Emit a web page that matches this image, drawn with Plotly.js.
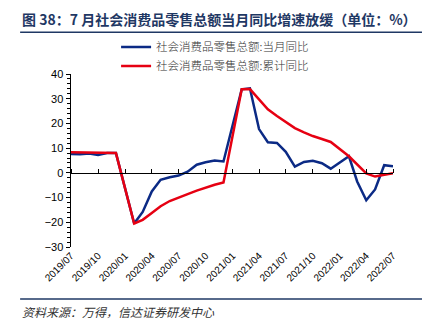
<!DOCTYPE html>
<html><head><meta charset="utf-8">
<script src="https://cdn.plot.ly/plotly-3.0.1.min.js"></script>
<style>body{margin:0;padding:0;background:#fff}#c{width:431px;height:327px}</style>
</head><body><div id="c"></div>
<script>
const months = ["2019-07-01","2019-08-01","2019-09-01","2019-10-01","2019-11-01","2019-12-01",
"2020-02-01","2020-03-01","2020-04-01","2020-05-01","2020-06-01","2020-07-01","2020-08-01","2020-09-01","2020-10-01","2020-11-01","2020-12-01",
"2021-02-01","2021-03-01","2021-04-01","2021-05-01","2021-06-01","2021-07-01","2021-08-01","2021-09-01","2021-10-01","2021-11-01","2021-12-01",
"2022-02-01","2022-03-01","2022-04-01","2022-05-01","2022-06-01","2022-07-01"];
const monthlyYoY = [7.6,7.5,7.8,7.2,8.0,8.0,
-20.5,-15.8,-7.5,-2.8,-1.8,-1.1,0.5,3.3,4.3,5.0,4.6,
33.8,34.2,17.7,12.4,12.1,8.5,2.5,4.4,4.9,3.9,1.7,
6.7,-3.5,-11.1,-6.7,3.1,2.7];
const cumulativeYoY = [8.3,8.2,8.2,8.1,8.0,8.0,
-20.5,-19.0,-16.2,-13.5,-11.4,-9.9,-8.6,-7.2,-5.9,-4.8,-3.9,
33.8,33.9,29.6,25.7,23.0,20.7,18.1,16.4,14.9,13.7,12.5,
6.7,3.3,-0.2,-1.5,-0.7,-0.2];
const seriesNames = ["社会消费品零售总额:当月同比","社会消费品零售总额:累计同比"];

const cjk = '"Noto Sans CJK SC", sans-serif';
const traces = [
  {x: months, y: monthlyYoY, name: seriesNames[0], type: 'scatter', mode: 'lines',
   line: {color: '#0b2a85', width: 2.5}},
  {x: months, y: cumulativeYoY, name: seriesNames[1], type: 'scatter', mode: 'lines',
   line: {color: '#e60012', width: 2.5}},
  {x: months, y: monthlyYoY, xaxis: 'x2', type: 'scatter', mode: 'lines',
   line: {width: 0}, showlegend: false, hoverinfo: 'skip'}
];
const layout = {
  width: 431, height: 327,
  margin: {l: 71, r: 38, t: 74, b: 80},
  paper_bgcolor: '#fff', plot_bgcolor: '#fff',
  showlegend: true,
  legend: {x: 0.14, y: 1.24, xanchor: 'left', yanchor: 'top', bgcolor: 'rgba(0,0,0,0)',
    font: {family: cjk, size: 11.5, color: '#333', weight: 300}, tracegroupgap: 0, itemwidth: 30},
  xaxis: {type: 'date', range: ['2019-07-01','2022-07-01'], tick0: '2019-07-01', dtick: 'M3',
    tickformat: '%Y/%m', tickangle: -45, showgrid: false, zeroline: false, showline: false,
    ticks: '', tickfont: {family: 'Liberation Sans, Arial', size: 10, color: '#000'}},
  xaxis2: {type: 'date', matches: 'x', overlaying: 'x', anchor: 'free', position: 3/7,
    showticklabels: false, showgrid: false, zeroline: false, showline: true, linecolor: '#000', linewidth: 1.5,
    ticks: 'outside', ticklen: 4, tickcolor: '#000', tick0: '2019-07-01', dtick: 'M3', side: 'top'},
  yaxis: {range: [-30, 40], dtick: 10, showgrid: false, zeroline: false, showline: true,
    linecolor: '#000', linewidth: 1.5, ticks: 'outside', ticklen: 4, tickcolor: '#000',
    minor: {dtick: 2, ticks: 'outside', ticklen: 3, tickcolor: '#000'},
    tickfont: {family: 'Liberation Sans, Arial', size: 11, color: '#000'}},
  shapes: [
    {type: 'line', xref: 'paper', yref: 'paper', x0: -0.158, x1: 1.09, y0: 1.241, y1: 1.241,
     line: {color: '#1f3864', width: 1.5}},
    {type: 'line', xref: 'paper', yref: 'paper', x0: -0.158, x1: 1.09, y0: -0.301, y1: -0.301,
     line: {color: '#1f3864', width: 1.5}}
  ],
  annotations: [
    {text: '<b>图 38：7 月社会消费品零售总额当月同比增速放缓（单位：%）</b>', xref: 'paper', yref: 'paper',
     x: -0.158, y: 1.25, xanchor: 'left', yanchor: 'bottom', showarrow: false,
     font: {family: cjk, size: 14, color: '#1f3864'}},
    {text: '<i>资料来源：万得，信达证券研发中心</i>', xref: 'paper', yref: 'paper',
     x: -0.158, y: -0.315, xanchor: 'left', yanchor: 'top', showarrow: false,
     font: {family: cjk, size: 12, color: '#333'}}
  ]
};
Plotly.newPlot('c', traces, layout, {staticPlot: true, displayModeBar: false});
</script></body></html>
